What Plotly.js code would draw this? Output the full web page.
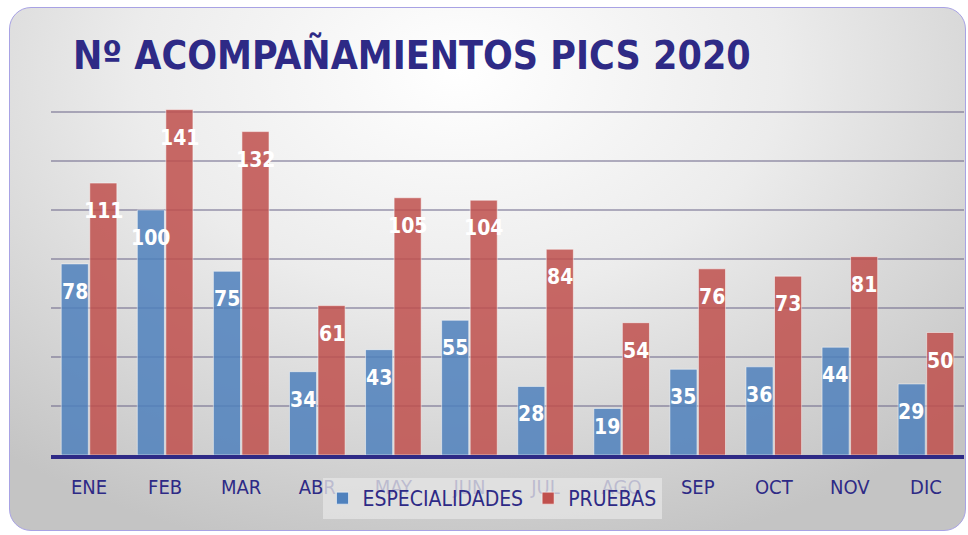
<!DOCTYPE html>
<html>
<head>
<meta charset="utf-8">
<script src="https://cdn.plot.ly/plotly-3.0.1.min.js"></script>
<style>
  html, body { margin:0; padding:0; background:#ffffff; width:968px; height:535px; overflow:hidden; }
  #frame { position:absolute; left:9px; top:7px; width:955px; height:522px;
    border:1.5px solid #a8a2e4; border-radius:22px;
    background: radial-gradient(ellipse 75% 95% at 47% 12%, #ffffff 0%, #ececec 45%, #d6d6d6 75%, #c4c4c4 100%); }
  #chart { position:absolute; left:0; top:0; width:968px; height:535px; }
</style>
</head>
<body>
<div id="frame"></div>
<div id="chart"></div>
<script>
const months = ["ENE","FEB","MAR","ABR","MAY","JUN","JUL","AGO","SEP","OCT","NOV","DIC"];
const especialidades = [78,100,75,34,43,55,28,19,35,36,44,29];
const pruebas = [111,141,132,61,105,104,84,54,76,73,81,50];
const seriesNames = ["ESPECIALIDADES","PRUEBAS"];

const navy = "#2e2a86";
const fam = "Liberation Sans Narrow, DejaVu Sans Condensed, sans-serif";

const traces = [
  {type:"bar", name:seriesNames[0], x:months, y:especialidades,
   marker:{color:"#4f81bd", opacity:0.85, line:{color:"rgba(255,255,255,0.55)", width:1}}, hoverinfo:"none"},
  {type:"bar", name:seriesNames[1], x:months, y:pruebas,
   marker:{color:"#c0504d", opacity:0.85, line:{color:"rgba(255,255,255,0.55)", width:1}}, hoverinfo:"none"}
];

const annotations = [];
[especialidades, pruebas].forEach((vals, si) => {
  vals.forEach((v, i) => {
    annotations.push({x: months[i], y: v, xref:"x", yref:"y", text: String(v), showarrow:false,
      xshift: si === 0 ? -14.5 : 14.5, yshift: v < 22 ? -19 : -28,
      font: {family:fam, size:21, color:"#ffffff", weight:"bold"}});
  });
});

const layout = {
  width:968, height:535,
  paper_bgcolor:"rgba(0,0,0,0)", plot_bgcolor:"rgba(0,0,0,0)",
  margin:{l:51, r:4, t:63, b:80},
  title:{text:"Nº ACOMPAÑAMIENTOS PICS 2020", x:73/968, xanchor:"left", xref:"container",
    y:1-55/535, yanchor:"middle", yref:"container",
    font:{family:fam, size:39, color:navy, weight:"bold"}},
  barmode:"group", bargap:0.25, bargroupgap:0.05,
  xaxis:{type:"category", showline:true, linecolor:navy, linewidth:4, showgrid:false, ticks:"",
    tickfont:{family:fam, size:20, color:navy}, ticklabelstandoff:11},
  yaxis:{range:[0,160], dtick:20, showticklabels:false, showgrid:true, gridcolor:"rgba(105,100,135,0.5)", gridwidth:2,
    zeroline:false, fixedrange:true},
  showlegend:true,
  legend:{orientation:"h", xref:"container", yref:"container", x:492/968, xanchor:"center", y:1-478/535, yanchor:"top",
    bgcolor:"rgba(228,228,228,0.78)", font:{family:fam, size:21, color:navy},
    itemwidth:30, traceorder:"normal"},
  annotations: annotations
};

Plotly.newPlot("chart", traces, layout, {staticPlot:true, displayModeBar:false});
</script>
</body>
</html>
